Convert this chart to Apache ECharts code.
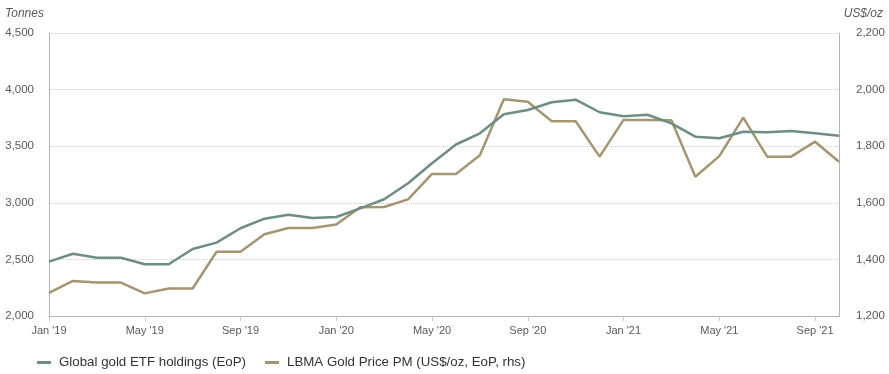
<!DOCTYPE html>
<html>
<head>
<meta charset="utf-8">
<script src="https://cdn.jsdelivr.net/npm/echarts@6/dist/echarts.min.js"></script>
<style>html,body{margin:0;padding:0;background:#fff;}#c{width:889px;height:374px;}</style>
</head>
<body>
<div id="c"></div>
<script>
var months = ["Jan '19","Feb '19","Mar '19","Apr '19","May '19","Jun '19","Jul '19","Aug '19","Sep '19","Oct '19","Nov '19","Dec '19",
  "Jan '20","Feb '20","Mar '20","Apr '20","May '20","Jun '20","Jul '20","Aug '20","Sep '20","Oct '20","Nov '20","Dec '20",
  "Jan '21","Feb '21","Mar '21","Apr '21","May '21","Jun '21","Jul '21","Aug '21","Sep '21","Oct '21"];
var etfHoldings = [2480,2550,2515,2515,2457,2457,2592,2648,2775,2860,2895,2866,
  2875,2951,3031,3172,3349,3515,3614,3782,3820,3888,3911,3800,
  3764,3778,3702,3584,3570,3628,3623,3634,3614,3593];
var goldPrice = [1282,1324,1318,1318,1280,1297,1297,1427,1427,1489,1511,1511,
  1523,1584,1585,1612,1702,1702,1768,1966,1957,1888,1888,1763,
  1893,1893,1892,1692,1765,1901,1763,1763,1816,1745];
var seriesNames = ["Global gold ETF holdings (EoP)", "LBMA Gold Price PM (US$/oz, EoP, rhs)"];
var leftTicks = [2000, 4500, 500];
var rightTicks = [1200, 2200, 200];

var FONT = "Liberation Sans";
var chart = echarts.init(document.getElementById('c'), null, {renderer:'canvas'});
chart.setOption({
  animation: false,
  backgroundColor: '#fff',
  grid: {left: 49, right: 50, top: 33, bottom: 58, containLabel: false},
  graphic: [
    {type:'text', left: 5, top: 8, style:{text:'Tonnes', font:'italic 12px "' + FONT + '"', fill:'#595959'}},
    {type:'text', right: 6, top: 8, style:{text:'US$/oz', font:'italic 12px "' + FONT + '"', fill:'#595959'}}
  ],
  legend: {
    left: 37, top: 356, padding: 0, itemGap: 19, itemWidth: 14, itemHeight: 3, icon: 'rect',
    textStyle: {fontFamily: FONT, fontSize: 13.3, color: '#333', padding: [0, 0, 0, 3]},
    data: seriesNames
  },
  xAxis: {
    type: 'category', boundaryGap: false, data: months,
    axisLine: {lineStyle: {color: '#b5b5b5', width: 1}},
    axisTick: {show: true, interval: 3, length: 5, lineStyle: {color: '#ccc'}},
    axisLabel: {interval: 3, margin: 9, fontFamily: FONT, fontSize: 11, color: '#595959'},
    splitLine: {show: false}
  },
  yAxis: [
    {
      type: 'value', min: leftTicks[0], max: leftTicks[1], interval: leftTicks[2], position: 'left',
      axisLine: {show: true, lineStyle: {color: '#b5b5b5'}},
      axisTick: {show: false},
      axisLabel: {margin: 15, fontFamily: FONT, fontSize: 11.5, color: '#595959',
        formatter: function(v){ return v.toLocaleString('en-US'); }},
      splitLine: {show: true, lineStyle: {color: '#cfcfcf', type: 'dotted', width: 1}}
    },
    {
      type: 'value', min: rightTicks[0], max: rightTicks[1], interval: rightTicks[2], position: 'right',
      axisLine: {show: true, lineStyle: {color: '#b5b5b5'}},
      axisTick: {show: false},
      axisLabel: {margin: 17, fontFamily: FONT, fontSize: 11.5, color: '#595959',
        formatter: function(v){ return v.toLocaleString('en-US'); }},
      splitLine: {show: false}
    }
  ],
  series: [
    {name: seriesNames[0], type: 'line', yAxisIndex: 0, data: etfHoldings, showSymbol: false, symbol: 'none',
      lineStyle: {color: '#6e8d84', width: 2.5}, itemStyle: {color: '#6e8d84'}, z: 3},
    {name: seriesNames[1], type: 'line', yAxisIndex: 1, data: goldPrice, showSymbol: false, symbol: 'none',
      lineStyle: {color: '#a39670', width: 2.5}, itemStyle: {color: '#a39670'}, z: 2}
  ]
});
</script>
</body>
</html>
